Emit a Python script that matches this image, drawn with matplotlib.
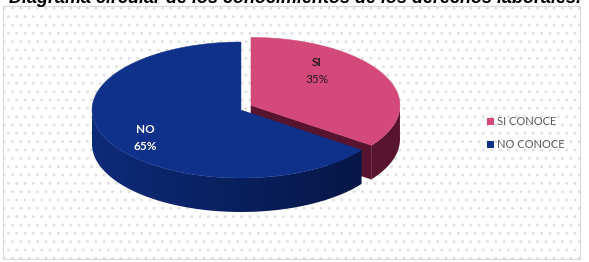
import numpy as np
import matplotlib.pyplot as plt
from matplotlib.patches import Polygon, Rectangle
from matplotlib.colors import LinearSegmentedColormap

plt.rcParams['hatch.color'] = '#dedede'
plt.rcParams['hatch.linewidth'] = 0.8

# data
names = ['SI', 'NO']
values = [35, 65]
legend_labels = ['SI CONOCE', 'NO CONOCE']
title = 'Diagrama circular de los conocimientos de los derechos laborales.'

top_colors = ['#d2497a', '#10318a']
side_light = ['#6e1e3a', '#0e2b7a']
side_dark = ['#58142e', '#051441']
explode = [0.075, 0.0]

# geometry of the 3d pie (pixel units, y down)
cx, cy = 241, 110
A, B = 149, 68
depth = 34


def pt(t, ox, oy):
    t = np.radians(t)
    return ox + A * np.cos(t), oy - B * np.sin(t)


def front_parts(lo, hi):
    parts = []
    for k in range(-2, 3):
        a, b = max(lo, 180 + 360 * k), min(hi, 360 + 360 * k)
        if a < b:
            parts.append((a, b))
    return parts


fig = plt.figure(figsize=(5.89, 2.62), dpi=100)
ax = fig.add_axes([0, 0, 1, 1])

# chart area with dotted texture
ax.add_patch(Rectangle((3, 6), 577, 253, facecolor='white', edgecolor='#dedede',
                       hatch='..', linewidth=0, zorder=0))
ax.add_patch(Rectangle((3, 6), 577, 253, facecolor='none', edgecolor='#d9d9d9',
                       linewidth=0.8, zorder=1))

# slice angles, starting at 12 o'clock going clockwise
total = sum(values)
starts, ends = [], []
acc = 0
for v in values:
    starts.append(90 - acc / total * 360)
    acc += v
    ends.append(90 - acc / total * 360)

z = 2
for i in range(len(values)):
    t0, t1 = starts[i], ends[i]
    mid = np.radians((t0 + t1) / 2)
    ox = cx + A * explode[i] * np.cos(mid)
    oy = cy - 2 * B * explode[i] * np.sin(mid)

    # cut faces
    for t, nrm in [(t1, t1 - 90), (t0, t0 + 90)]:
        if np.sin(np.radians(nrm)) < -0.01:
            x, y = pt(t, ox, oy)
            ax.add_patch(Polygon([(ox, oy), (x, y), (x, y + depth), (ox, oy + depth)],
                                 closed=True, facecolor=side_dark[i],
                                 edgecolor=side_dark[i], linewidth=0.3, zorder=z))
    # outer side with a left-to-right shading
    cmap = LinearSegmentedColormap.from_list('side%d' % i, [side_light[i], side_dark[i]])
    for a, b in front_parts(t1, t0):
        ts = np.linspace(a, b, 150)
        xs, ys = pt(ts, ox, oy)
        verts = list(zip(xs, ys)) + list(zip(xs[::-1], ys[::-1] + depth))
        poly = Polygon(verts, closed=True, facecolor='none', edgecolor='none', zorder=z)
        ax.add_patch(poly)
        grad = np.linspace(0, 1, 256).reshape(1, -1)
        im = ax.imshow(grad, cmap=cmap,
                       extent=[ox - A - 2, ox + A + 2, oy + B + depth + 2, oy - B - 2],
                       aspect='auto', zorder=z, interpolation='bilinear')
        im.set_clip_path(poly)
    # top face
    ts = np.linspace(t0, t1, 200)
    xs, ys = pt(ts, ox, oy)
    verts = [(ox, oy)] + list(zip(xs, ys))
    ax.add_patch(Polygon(verts, closed=True, facecolor=top_colors[i],
                         edgecolor=top_colors[i], linewidth=0.3, zorder=z + 1))
    z += 2

ax.set_xlim(0, 589)
ax.set_ylim(262, 0)
ax.axis('off')

# data labels
pct = [f'{round(v / total * 100)}%' for v in values]
label_pos = [(317, 71), (145, 138)]
label_col = ['#2a1a20', 'white']
for i in range(len(values)):
    x, y = label_pos[i]
    ax.text(x, y - 8.5, names[i], ha='center', va='center', fontsize=8.5,
            fontweight='bold', color=label_col[i], family='Lato', zorder=10)
    ax.text(x, y + 8.5, pct[i], ha='center', va='center', fontsize=8.5,
            fontweight='bold' if i == 1 else 'normal', color=label_col[i],
            family='Lato', zorder=10)

# legend
for i, lab in enumerate(legend_labels):
    ly = 121.5 + 23 * i
    ax.add_patch(Rectangle((487, ly - 3.5), 7, 7, facecolor=top_colors[i],
                           edgecolor='none', zorder=10))
    ax.text(497, ly, lab, ha='left', va='center', fontsize=8, color='#595959',
            family='Lato', zorder=10)

# title, cut off at the top edge
ax.text(295, 3, title, ha='center', va='baseline', fontsize=13, fontweight='bold',
        fontstyle='italic', family='Liberation Sans', color='black', zorder=10)

fig.savefig('out.png', dpi=100)
